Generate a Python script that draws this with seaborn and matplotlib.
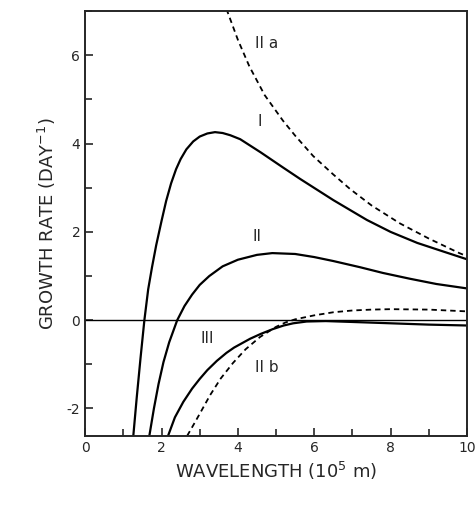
import numpy as np
import pandas as pd
import matplotlib
matplotlib.use("Agg")
import matplotlib.pyplot as plt
import seaborn as sns
from matplotlib.ticker import MultipleLocator

# curve I
x_1 = [1.26, 1.35, 1.45, 1.55, 1.65, 1.75, 1.86, 2.0, 2.12, 2.25, 2.38, 2.5, 2.65, 2.83, 3.0, 3.2, 3.4, 3.6, 3.8, 4.06, 4.6, 5.18, 5.63, 6.5, 7.38, 8.0, 8.7, 9.4, 10.0]
y_1 = [-2.62, -1.75, -0.85, 0.0, 0.7, 1.2, 1.7, 2.25, 2.7, 3.1, 3.42, 3.65, 3.87, 4.05, 4.16, 4.23, 4.26, 4.24, 4.19, 4.1, 3.8, 3.46, 3.2, 2.72, 2.27, 2.0, 1.75, 1.55, 1.38]

# curve II
x_2 = [1.68, 1.8, 1.92, 2.05, 2.2, 2.41, 2.6, 2.8, 3.0, 3.25, 3.6, 4.0, 4.5, 4.9, 5.5, 6.0, 6.5, 7.2, 7.8, 8.5, 9.2, 10.0]
y_2 = [-2.62, -2.0, -1.45, -0.95, -0.5, 0.0, 0.32, 0.58, 0.8, 1.0, 1.22, 1.37, 1.48, 1.52, 1.5, 1.43, 1.34, 1.2, 1.07, 0.94, 0.82, 0.72]

# curve IIa (dashed)
x_2a = [3.7, 4.0, 4.3, 4.7, 5.18, 5.5, 5.97, 6.5, 6.94, 7.5, 8.25, 9.0, 9.8, 10.0]
y_2a = [7.05, 6.35, 5.75, 5.1, 4.52, 4.18, 3.72, 3.3, 2.97, 2.6, 2.19, 1.85, 1.52, 1.45]

# curve III
x_3 = [2.17, 2.35, 2.57, 2.8, 3.0, 3.2, 3.45, 3.7, 3.9, 4.32, 4.6, 4.92, 5.2, 5.45, 5.8, 6.3, 7.0, 8.0, 9.0, 10.0]
y_3 = [-2.62, -2.2, -1.85, -1.55, -1.33, -1.13, -0.92, -0.74, -0.62, -0.42, -0.31, -0.2, -0.12, -0.07, -0.03, -0.02, -0.04, -0.07, -0.1, -0.12]

# curve IIb (dashed)
x_2b = [2.67, 2.85, 3.0, 3.27, 3.55, 3.87, 4.2, 4.58, 5.0, 5.25, 5.5, 6.0, 6.5, 7.0, 7.5, 8.0, 9.0, 10.0]
y_2b = [-2.62, -2.35, -2.12, -1.7, -1.32, -0.97, -0.66, -0.38, -0.15, -0.05, 0.02, 0.11, 0.18, 0.22, 0.24, 0.25, 0.24, 0.2]

sns.set_style("ticks")
plt.rcParams['font.family'] = ['DejaVu Sans']
plt.rcParams['axes.unicode_minus'] = False

fig = plt.figure(figsize=(4.76, 5.08), dpi=100)
ax = fig.add_axes([0.179, 0.142, 0.802, 0.836])

solid = [(x_1, y_1), (x_2, y_2), (x_3, y_3)]
dashed = [(x_2a, y_2a), (x_2b, y_2b)]
for xs, ys in solid:
    sns.lineplot(x=xs, y=ys, ax=ax, color='black', lw=1.6, sort=False)
for xs, ys in dashed:
    sns.lineplot(x=xs, y=ys, ax=ax, color='black', lw=1.3, linestyle=(0, (3, 2.2)), sort=False)

ax.axhline(0, color='black', lw=1.0)

ax.text(4.76, 6.26, "II a", fontsize=11, ha='center', va='center')
ax.text(4.56, 4.5, "I", fontsize=11, ha='center', va='center')
ax.text(4.5, 1.9, "II", fontsize=11, ha='center', va='center')
ax.text(3.2, -0.42, "III", fontsize=11, ha='center', va='center')
ax.text(4.75, -1.08, "II b", fontsize=11, ha='center', va='center')

ax.set_xlim(0, 10)
ax.set_ylim(-2.62, 7.0)
ax.xaxis.set_major_locator(MultipleLocator(2))
ax.xaxis.set_minor_locator(MultipleLocator(1))
ax.yaxis.set_major_locator(MultipleLocator(2))
ax.yaxis.set_minor_locator(MultipleLocator(1))
ax.tick_params(which='both', direction='in', length=6, width=1.2, labelsize=10)
ax.tick_params(which='minor', length=5)
ax.tick_params(axis='x', which='both', top=False)
ax.tick_params(axis='y', which='both', right=False)
for s in ax.spines.values():
    s.set_linewidth(1.4)

ax.set_xlabel("WAVELENGTH (10$^5$ m)", fontsize=13, labelpad=4)
ax.set_ylabel("GROWTH RATE (DAY$^{-1}$)", fontsize=13, labelpad=6)

fig.savefig("out.png", dpi=100)
